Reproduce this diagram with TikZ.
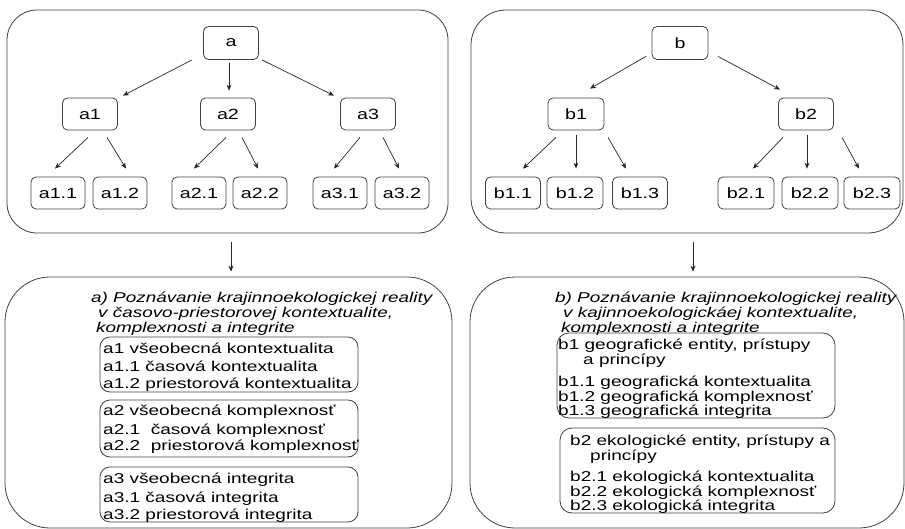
\documentclass[tikz,border=0pt]{standalone}
\usepackage{fontspec}
\setmainfont{Liberation Sans}[FakeStretch=1.33]
\usetikzlibrary{arrows.meta}
\begin{document}
\begin{tikzpicture}[x=1pt,y=-1pt,
  line/.style={draw=black!75, line width=0.8pt},
  panel/.style={line, inner sep=0pt},
  nbox/.style={line, rounded corners=5pt, minimum width=55pt, minimum height=32pt, inner sep=0pt, font=\fontsize{14.8}{16}\selectfont},
  ibox/.style={line, rounded corners=10pt, inner sep=0pt},
  arr/.style={draw=black!85, line width=0.7pt, -{Stealth[length=6pt,width=5pt]}},
  txt/.style={anchor=base west, inner sep=0pt, font=\fontsize{14.3}{16}\selectfont},
  ttl/.style={anchor=base west, inner sep=0pt, font=\fontsize{14.2}{16}\selectfont\itshape}]
\useasboundingbox (0,0) rectangle (905,529);
% panels
\node[panel, rounded corners=30pt, minimum width=441pt, minimum height=223pt] (PA) at (227.5,121.5) {};
\node[panel, rounded corners=35pt, minimum width=432pt, minimum height=223pt] (PB) at (687,121.5) {};
\node[panel, rounded corners=45pt, minimum width=447pt, minimum height=251pt] (QA) at (228.5,402.5) {};
\node[panel, rounded corners=45pt, minimum width=434pt, minimum height=251pt] (QB) at (687,402.5) {};
% tree a
\node[nbox, minimum height=33pt] (a) at (231,43) {a};
\node[nbox] (a1) at (90,114) {a1};
\node[nbox] (a2) at (228,114) {a2};
\node[nbox] (a3) at (368,114) {a3};
\node[nbox, minimum width=54pt] (a11) at (58,193) {a1.1};
\node[nbox, minimum width=54pt] (a12) at (120,193) {a1.2};
\node[nbox, minimum width=54pt] (a21) at (199,193) {a2.1};
\node[nbox, minimum width=54pt] (a22) at (260,193) {a2.2};
\node[nbox, minimum width=54pt] (a31) at (340,193) {a3.1};
\node[nbox, minimum width=54pt] (a32) at (402,193) {a3.2};
% tree b
\node[nbox, minimum height=33pt, minimum width=56pt] (b) at (680,43) {b};
\node[nbox, minimum width=56pt] (b1) at (576,114) {b1};
\node[nbox] (b2) at (806,114) {b2};
\node[nbox] (b11) at (513,193) {b1.1};
\node[nbox, minimum width=56pt] (b12) at (575,193) {b1.2};
\node[nbox] (b13) at (640,193) {b1.3};
\node[nbox, minimum width=56pt] (b21) at (746,193) {b2.1};
\node[nbox, minimum width=56pt] (b22) at (810,193) {b2.2};
\node[nbox, minimum width=56pt] (b23) at (872,193) {b2.3};
% arrows a
\draw[arr] ([xshift=-39pt]a.south) -- ([xshift=33pt,yshift=2pt]a1.north);
\draw[arr] ([xshift=-2pt,yshift=-3.5pt]a.south) -- ([xshift=1pt,yshift=7pt]a2.north);
\draw[arr] ([xshift=31pt]a.south) -- ([xshift=-34pt,yshift=2pt]a3.north);
\draw[arr] ([xshift=-2pt,yshift=-7pt]a1.south) -- ([xshift=-3pt,yshift=8pt]a11.north);
\draw[arr] ([xshift=17pt,yshift=-7pt]a1.south) -- ([xshift=6pt,yshift=8pt]a12.north);
\draw[arr] ([xshift=-2pt,yshift=-7pt]a2.south) -- ([xshift=-5pt,yshift=8pt]a21.north);
\draw[arr] ([xshift=14pt,yshift=-7pt]a2.south) -- ([xshift=-2pt,yshift=8pt]a22.north);
\draw[arr] ([xshift=-8pt,yshift=-7pt]a3.south) -- ([xshift=-6pt,yshift=8pt]a31.north);
\draw[arr] ([xshift=15pt,yshift=-7pt]a3.south) -- ([xshift=-3pt,yshift=8pt]a32.north);
% arrows b
\draw[arr] ([xshift=-34pt,yshift=3.5pt]b.south) -- ([xshift=14pt,yshift=9pt]b1.north);
\draw[arr] ([xshift=38pt,yshift=3.5pt]b.south) -- ([xshift=-26pt,yshift=8pt]b2.north);
\draw[arr] ([xshift=-20pt,yshift=-7pt]b1.south) -- ([xshift=10pt,yshift=8pt]b11.north);
\draw[arr] ([yshift=-5pt]b1.south) -- ([xshift=1pt,yshift=8pt]b12.north);
\draw[arr] ([xshift=32pt,yshift=-7pt]b1.south) -- ([xshift=-14pt,yshift=8pt]b13.north);
\draw[arr] ([xshift=-23pt,yshift=-7pt]b2.south) -- ([xshift=7pt,yshift=8pt]b21.north);
\draw[arr] ([xshift=1pt,yshift=-5pt]b2.south) -- ([xshift=-3pt,yshift=8pt]b22.north);
\draw[arr] ([xshift=36pt,yshift=-7pt]b2.south) -- ([xshift=-13pt,yshift=8pt]b23.north);
% panel arrows
\draw[arr] ([xshift=3.5pt,yshift=-9pt]PA.south) -- ([xshift=2.5pt,yshift=5pt]QA.north);
\draw[arr] ([xshift=6pt,yshift=-9pt]PB.south) -- ([xshift=6pt,yshift=5pt]QB.north);
% left bottom content
\node[ttl] (ta1) at (91,303) {a) Poznávanie krajinnoekologickej reality};
\node[ttl] (ta2) at (98,318) {v časovo-priestorovej kontextualite,};
\node[ttl] (ta3) at (96,333) {komplexnosti a integrite};
\node[ibox, minimum width=258pt, minimum height=55pt] (ba1) at (229,364.5) {};
\node[txt] (la11) at (103,353) {a1 všeobecná kontextualita};
\node[txt] (la12) at (103,371) {a1.1 časová kontextualita};
\node[txt] (la13) at (103,388) {a1.2 priestorová kontextualita};
\node[ibox, minimum width=258pt, minimum height=57pt] (ba2) at (229,428.5) {};
\node[txt] (la21) at (103,415) {a2 všeobecná komplexnosť};
\node[txt] (la22) at (103,434) {a2.1\ \ časová komplexnosť};
\node[txt] (la23) at (103,450) {a2.2\ \ priestorová komplexnosť};
\node[ibox, minimum width=258pt, minimum height=55pt] (ba3) at (229,494.5) {};
\node[txt] (la31) at (103,483) {a3 všeobecná integrita};
\node[txt] (la32) at (103,502) {a3.1 časová integrita};
\node[txt] (la33) at (103,519) {a3.2 priestorová integrita};
% right bottom content
\node[ttl] (tb1) at (555,303) {b) Poznávanie krajinnoekologickej reality};
\node[ttl] (tb2) at (563,318) {v kajinnoekologickáej kontextualite,};
\node[ttl] (tb3) at (561,333) {komplexnosti a integrite};
\node[ibox, rounded corners=12pt, minimum width=278pt, minimum height=85pt] (bb1) at (696,375.5) {};
\node[txt] (lb11) at (558,349) {b1 geografické entity, prístupy};
\node[txt] (lb12) at (583,364) {a princípy};
\node[txt] (lb13) at (558,386) {b1.1 geografická kontextualita};
\node[txt] (lb14) at (558,401) {b1.2 geografická komplexnosť};
\node[txt] (lb15) at (558,415) {b1.3 geografická integrita};
\node[ibox, rounded corners=12pt, minimum width=275pt, minimum height=85pt] (bb2) at (697.5,470.5) {};
\node[txt] (lb21) at (570,445) {b2 ekologické entity, prístupy a};
\node[txt] (lb22) at (590,460) {princípy};
\node[txt] (lb23) at (570,481) {b2.1 ekologická kontextualita};
\node[txt] (lb24) at (570,496) {b2.2 ekologická komplexnosť};
\node[txt] (lb25) at (570,510) {b2.3 ekologická integrita};
\end{tikzpicture}
\end{document}
